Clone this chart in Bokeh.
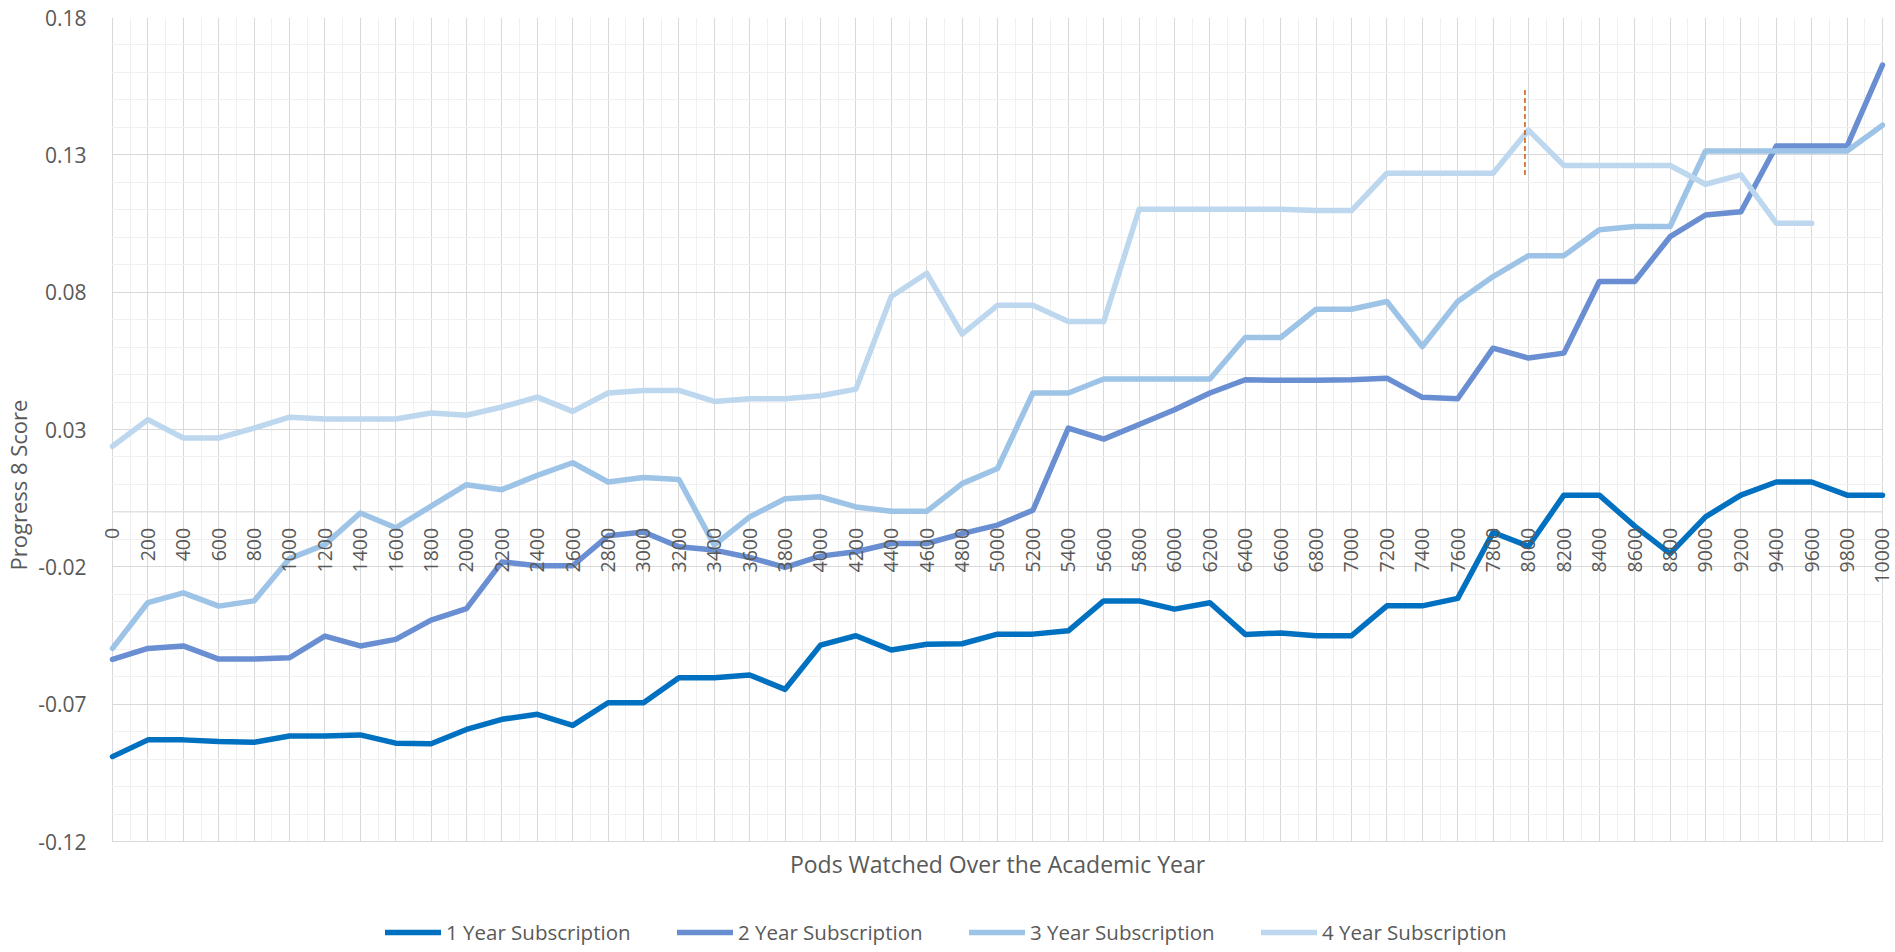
import math
from bokeh.plotting import figure
from bokeh.models import (FixedTicker, PrintfTickFormatter, Legend, LegendItem, BoxAnnotation,
                          Span, ColumnDataSource, Range1d, LabelSet, Label)
from bokeh.embed import file_html
from bokeh.resources import INLINE
from bokeh.core.properties import value

NAN = float("nan")

# ---------------- data ----------------
pods = list(range(0, 10001, 200))
pod_labels = [str(v) for v in pods]

sub_1yr = [-0.0891, -0.0830, -0.0830, -0.0836, -0.0839, -0.0816, -0.0816, -0.0812, -0.0842, -0.0844,
           -0.0792, -0.0755, -0.0737, -0.0777, -0.0695, -0.0695, -0.0604, -0.0604, -0.0594, -0.0646,
           -0.0485, -0.0451, -0.0503, -0.0482, -0.0480, -0.0445, -0.0445, -0.0433, -0.0324, -0.0324,
           -0.0354, -0.0331, -0.0446, -0.0441, -0.0451, -0.0451, -0.0342, -0.0342, -0.0315, -0.0075,
           -0.0125, 0.0061, 0.0061, -0.0052, -0.0152, -0.0018, 0.0061, 0.0109, 0.0109, 0.0061, 0.0061]

sub_2yr = [-0.0537, -0.0497, -0.0488, -0.0536, -0.0536, -0.0531, -0.0452, -0.0488, -0.0464, -0.0394,
           -0.0352, -0.0182, -0.0196, -0.0196, -0.0087, -0.0073, -0.0127, -0.0139, -0.0166, -0.0202,
           -0.0161, -0.0145, -0.0115, -0.0115, -0.0079, -0.0048, 0.0006, 0.0305, 0.0265, 0.0318,
           0.0372, 0.0433, 0.0481, 0.0479, 0.0479, 0.0481, 0.0487, 0.0417, 0.0412, 0.0596,
           0.0560, 0.0578, 0.0839, 0.0839, 0.1002, 0.1081, 0.1093, 0.1332, 0.1332, 0.1332, 0.1627]

sub_3yr = [-0.0497, -0.0330, -0.0295, -0.0343, -0.0324, -0.0170, -0.0119, -0.0004, -0.0058, 0.0021,
           0.0099, 0.0081, 0.0133, 0.0179, 0.0109, 0.0125, 0.0118, -0.0121, -0.0018, 0.0048,
           0.0055, 0.0018, 0.0002, 0.0002, 0.0103, 0.0158, 0.0433, 0.0433, 0.0484, 0.0484,
           0.0484, 0.0484, 0.0635, 0.0635, 0.0738, 0.0738, 0.0766, 0.0602, 0.0766, 0.0857,
           0.0933, 0.0933, 0.1027, 0.1039, 0.1039, 0.1314, 0.1314, 0.1314, 0.1314, 0.1314, 0.1408]

sub_4yr = [0.0239, 0.0336, 0.0269, 0.0269, 0.0305, 0.0345, 0.0338, 0.0338, 0.0338, 0.0360,
           0.0352, 0.0382, 0.0418, 0.0366, 0.0433, 0.0442, 0.0442, 0.0402, 0.0412, 0.0412,
           0.0423, 0.0447, 0.0784, 0.0869, 0.0647, 0.0752, 0.0752, 0.0693, 0.0693, 0.1102,
           0.1102, 0.1102, 0.1102, 0.1102, 0.1097, 0.1097, 0.1233, 0.1233, 0.1233, 0.1233,
           0.1390, 0.1261, 0.1261, 0.1261, 0.1261, 0.1193, 0.1227, 0.1051, 0.1051, NAN, NAN]

series_names = ["1 Year Subscription", "2 Year Subscription", "3 Year Subscription", "4 Year Subscription"]
series_values = [sub_1yr, sub_2yr, sub_3yr, sub_4yr]
series_colors = ["#0070C0", "#6A8ED2", "#9DC3E6", "#BDD7EE"]

# dashed vertical marker near 8000
marker_pod = [7980]
marker_low = [0.1227]
marker_high = [0.1545]

y_major = [-0.12, -0.07, -0.02, 0.03, 0.08, 0.13, 0.18]
y_minor = [round(-0.12 + 0.01 * i, 2) for i in range(31)]
x_minor = [v + 100 for v in pods[:-1]]

FONT = "Open Sans"
TXT = "#595959"

# ---------------- layout ----------------
FIG_W, FIG_H = 1895, 952
BORDER_TOP, BORDER_LEFT = 17, 104
LEFT_PAD = 8                     # px of room left of the first category (keeps its label whole)
PLOT_H = 824                     # pixel height of the gridded -0.12 .. 0.18 area
PLOT_W = 1770                    # pixel width of the 0 .. 10000 category span
Y_LO, Y_HI = y_major[0], y_major[-1]
X_LO, X_HI = pods[0], pods[-1]
px_per_y = PLOT_H / (Y_HI - Y_LO)
px_per_x = PLOT_W / (X_HI - X_LO)
frame_w = FIG_W - BORDER_LEFT
y_start = Y_LO - (FIG_H - BORDER_TOP - PLOT_H) / px_per_y
x_start = X_LO - LEFT_PAD / px_per_x
x_end = x_start + frame_w / px_per_x

p = figure(width=FIG_W, height=FIG_H, output_backend="svg", toolbar_location=None,
           x_range=Range1d(x_start, x_end), y_range=Range1d(y_start, Y_HI),
           x_axis_location=None,
           min_border_left=BORDER_LEFT, min_border_right=0, min_border_top=BORDER_TOP,
           min_border_bottom=0)
p.outline_line_color = None
p.background_fill_color = "white"
p.border_fill_color = "white"

# y axis
yax = p.yaxis[0]
yax.ticker = FixedTicker(ticks=y_major, minor_ticks=y_minor)
yax.formatter = PrintfTickFormatter(format="%.2f")
yax.axis_line_color = None
yax.major_tick_line_color = None
yax.minor_tick_line_color = None
yax.major_tick_out = 0
yax.major_label_standoff = 22 - LEFT_PAD
yax.major_label_text_font = FONT
yax.major_label_text_font_size = "21px"
yax.major_label_text_color = TXT
yax.axis_label = "Progress 8 Score"
yax.axis_label_text_font = FONT
yax.axis_label_text_font_size = "22px"
yax.axis_label_text_font_style = "normal"
yax.axis_label_text_color = TXT
yax.axis_label_standoff = 2

# grids
p.xgrid.ticker = FixedTicker(ticks=pods, minor_ticks=x_minor)
p.xgrid.grid_line_color = "#D9D9D9"
p.xgrid.minor_grid_line_color = "#F0F0F0"
p.ygrid.grid_line_color = "#D9D9D9"
p.ygrid.minor_grid_line_color = "#F0F0F0"
p.add_layout(Span(location=0, dimension="width", line_color="#D9D9D9", line_width=1, level="underlay"))
# blank the areas outside the gridded chart (title + legend live below it)
for box in (BoxAnnotation(top=Y_LO - 0.6 / px_per_y),
            BoxAnnotation(left=X_HI + 0.6 / px_per_x),
            BoxAnnotation(right=X_LO - 0.6 / px_per_x)):
    box.fill_color = "white"
    box.fill_alpha = 1.0
    box.line_alpha = 0
    box.level = "underlay"
    p.add_layout(box)

# series
renderers = []
for name, vals, col in zip(series_names, series_values, series_colors):
    r = p.line(pods, vals, line_color=col, line_width=5.5, line_join="round", line_cap="round")
    renderers.append(r)

# dashed marker
p.segment(x0=marker_pod, y0=marker_low, x1=marker_pod, y1=marker_high,
          line_color="#C55A11", line_width=1.5, line_dash="5 3")

# category labels hanging below the zero line
lab_src = ColumnDataSource(dict(x=pods, y=[0] * len(pods), t=pod_labels))
labels = LabelSet(x="x", y="y", text="t", source=lab_src, angle=math.pi / 2,
                  text_align="right", text_baseline="middle", y_offset=-16,
                  text_font=value(FONT), text_font_size=value("19.5px"), text_color=value(TXT))
p.add_layout(labels)

# x axis title
p.add_layout(Label(x=(X_LO + X_HI) / 2, y=Y_LO, y_offset=-22,
                   text="Pods Watched Over the Academic Year",
                   text_align="center", text_baseline="middle",
                   text_font=FONT, text_font_size="23px", text_color=TXT))

# legend
items = [LegendItem(label=n, renderers=[r]) for n, r in zip(series_names, renderers)]
legend = Legend(items=items, orientation="horizontal", location=(273 + LEFT_PAD, 6),
                glyph_width=56, glyph_height=20, label_standoff=5, label_width=190,
                spacing=41, padding=0, margin=0, border_line_color=None,
                background_fill_alpha=0,
                label_text_font=FONT, label_text_font_size="20.5px", label_text_color=TXT)
p.add_layout(legend)

open("out.html", "w").write(file_html(p, INLINE))
